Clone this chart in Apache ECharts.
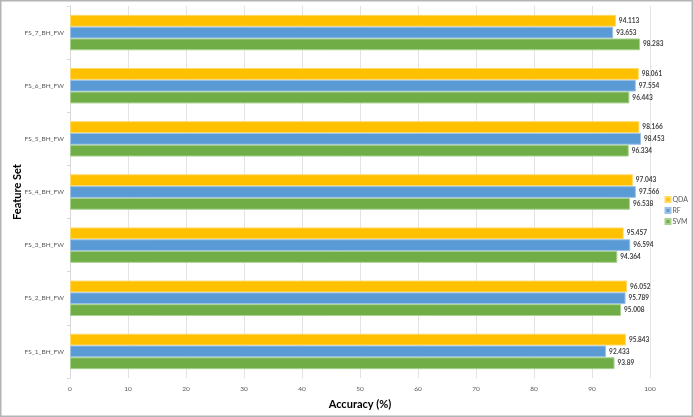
<!DOCTYPE html>
<html><head><meta charset="utf-8">
<script src="https://cdn.jsdelivr.net/npm/echarts@6/dist/echarts.min.js"></script>
<style>html,body{margin:0;padding:0;background:#fff}#c{width:693px;height:417px}</style>
</head><body><div id="c"></div>
<script>
const categories = ['FS_1_BH_FW','FS_2_BH_FW','FS_3_BH_FW','FS_4_BH_FW','FS_5_BH_FW','FS_6_BH_FW','FS_7_BH_FW'];
const qda = [95.843, 96.052, 95.457, 97.043, 98.166, 98.061, 94.113];
const rf  = [92.433, 95.789, 96.594, 97.566, 98.453, 97.554, 93.653];
const svm = [93.89, 95.008, 94.364, 96.538, 96.334, 96.443, 98.283];
const xTicks = [0,10,20,30,40,50,60,70,80,90,100];

const font = 'Lato, "Open Sans", sans-serif';
function mk(name, data, color, border) {
  return {
    name, type: 'bar', data, barWidth: 11.8, barGap: '0%', barCategoryGap: '33%',
    itemStyle: { color, borderColor: border, borderWidth: 1 },
    label: { show: true, position: 'right', distance: 3, fontSize: 6.5, color: '#404040',
      fontFamily: font, fontWeight: 'bold', formatter: p => String(p.value) }
  };
}
const chart = echarts.init(document.getElementById('c'));
chart.setOption({
  animation: false,
  grid: { left: 70, right: 43, top: 6, bottom: 39, containLabel: false, outerBoundsMode: 'none' },
  graphic: [{ type: 'rect', shape: { x: 0.75, y: 0.75, width: 691.5, height: 415.5 },
    style: { fill: 'none', stroke: '#b4b4b4', lineWidth: 1.5 }, z: 100 }],
  legend: {
    orient: 'vertical', right: 0, top: 191, itemWidth: 5, itemHeight: 5, itemGap: 4,
    data: ['QDA','RF','SVM'],
    textStyle: { fontSize: 7, color: '#595959', fontFamily: font, padding: [0,0,0,-3] },
    icon: 'rect'
  },
  xAxis: {
    type: 'value', min: 0, max: 100, interval: 10,
    name: 'Accuracy (%)', nameLocation: 'middle', nameGap: 21,
    nameTextStyle: { fontSize: 11, fontWeight: 'bold', color: '#000', fontFamily: font },
    axisLine: { show: false }, axisTick: { show: false },
    axisLabel: { fontSize: 6.5, color: '#595959', fontFamily: font, margin: 7,
      formatter: v => xTicks.includes(v) ? String(v) : '' },
    splitLine: { show: true, lineStyle: { color: '#e3e3e3', width: 1 } }
  },
  yAxis: {
    type: 'category', data: categories,
    name: 'Feature Set', nameLocation: 'middle', nameGap: 47, nameRotate: 90, nameMoveOverlap: false,
    nameTextStyle: { fontSize: 11, fontWeight: 'bold', color: '#000', fontFamily: font },
    axisLine: { show: true, lineStyle: { color: '#d9d9d9' } },
    axisTick: { show: true, length: 3, lineStyle: { color: '#d9d9d9' } },
    axisLabel: { fontSize: 6.5, color: '#595959', fontFamily: font, margin: 6 }
  },
  series: [
    mk('QDA', qda, '#FFC000', '#ffd966'),
    mk('RF', rf, '#5B9BD5', '#9dc3e6'),
    mk('SVM', svm, '#70AD47', '#a9d18e')
  ]
});
</script></body></html>
